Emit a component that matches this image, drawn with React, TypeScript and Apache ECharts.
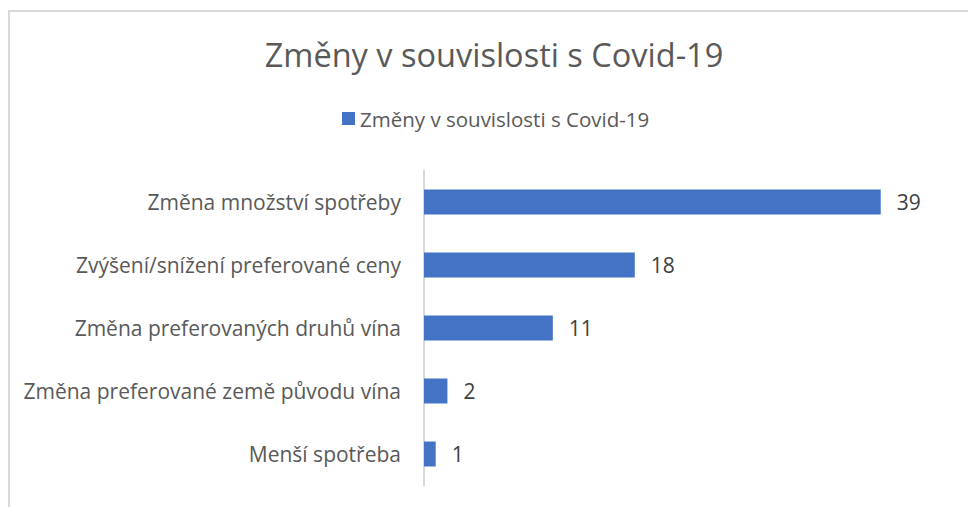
import React, { useEffect, useRef } from "react";
import * as echarts from "echarts";

const categories = [
  "Změna množství spotřeby",
  "Zvýšení/snížení preferované ceny",
  "Změna preferovaných druhů vína",
  "Změna preferované země původu vína",
  "Menší spotřeba",
];
const values = [39, 18, 11, 2, 1];
const seriesName = "Změny v souvislosti s Covid-19";
const titleText = "Změny v souvislosti s Covid-19";

const FONT = "'Open Sans', sans-serif";

export default function App() {
  const ref = useRef<HTMLDivElement>(null);
  useEffect(() => {
    document.body.style.margin = "0";
    document.body.style.overflow = "hidden";
    const chart = echarts.init(ref.current!, null, { renderer: "svg" });
    chart.setOption({
      animation: false,
      backgroundColor: "#ffffff",
      textStyle: { fontFamily: FONT },
      graphic: [
        {
          type: "rect",
          shape: { x: 9, y: 11, width: 1100, height: 600 },
          style: { fill: "none", stroke: "#d9d9d9", lineWidth: 2 },
          silent: true,
        },
      ],
      title: {
        text: titleText,
        left: "center",
        top: 33,
        textStyle: {
          fontFamily: FONT,
          fontSize: 32.5,
          fontWeight: "normal",
          color: "#595959",
        },
      },
      legend: {
        data: [seriesName],
        left: 337,
        top: 103,
        itemWidth: 13,
        itemHeight: 13,
        itemGap: 10,
        icon: "rect",
        textStyle: { fontFamily: FONT, fontSize: 20.5, color: "#595959" },
      },
      grid: { left: 424, right: 37, top: 170.5, bottom: 21.5, containLabel: false },
      xAxis: {
        type: "value",
        min: 0,
        max: 45,
        show: false,
        splitLine: { show: false },
      },
      yAxis: {
        type: "category",
        inverse: true,
        data: categories,
        axisLine: { show: true, lineStyle: { color: "#d9d9d9", width: 2 } },
        axisTick: { show: false },
        axisLabel: { margin: 23, fontFamily: FONT, fontSize: 21, color: "#595959" },
      },
      series: [
        {
          name: seriesName,
          type: "bar",
          data: values,
          barWidth: 25,
          itemStyle: { color: "#4472C4" },
          label: {
            show: true,
            position: "right",
            distance: 16,
            fontFamily: FONT,
            fontSize: 21,
            color: "#404040",
          },
        },
      ],
    });
    return () => chart.dispose();
  }, []);
  return <div ref={ref} style={{ width: 988, height: 507 }} />;
}
